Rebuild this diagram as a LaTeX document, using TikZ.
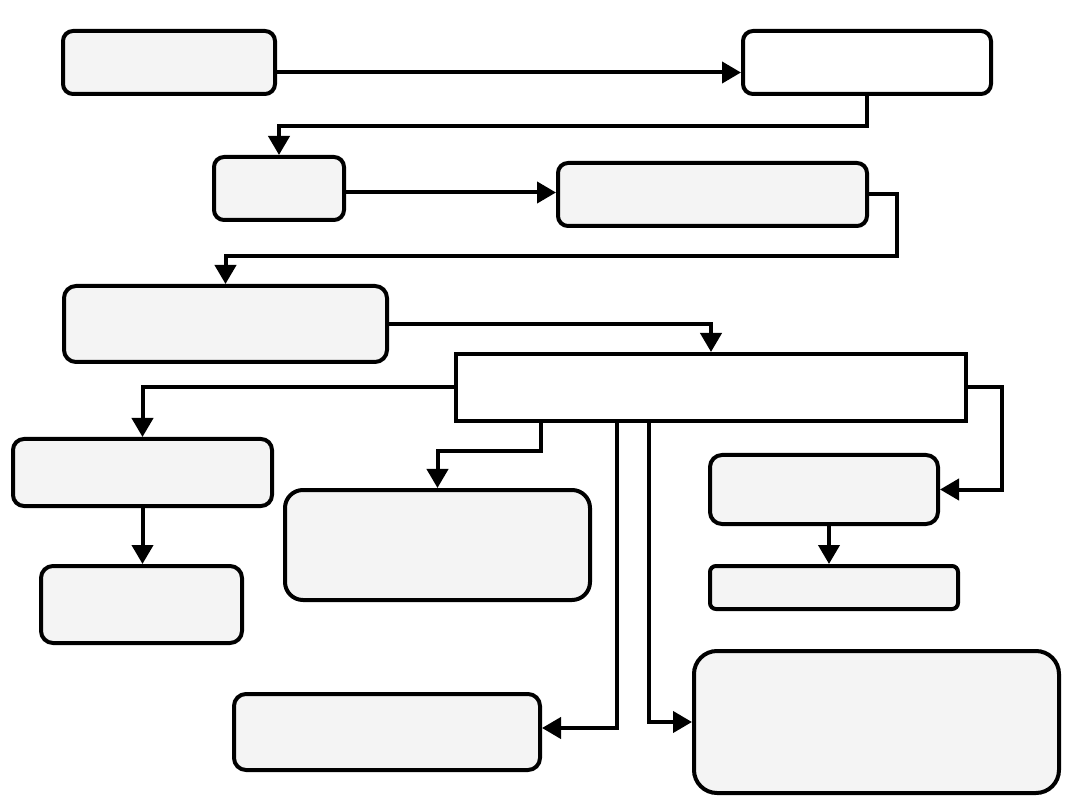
\documentclass[tikz,border=0pt]{standalone}
\usetikzlibrary{arrows.meta}
\definecolor{boxfill}{HTML}{F4F4F4}
\begin{document}
\begin{tikzpicture}[x=1pt,y=-1pt,
  box/.style={draw=black, line width=4pt, fill=boxfill, rounded corners=10pt,
    inner sep=0pt, outer sep=2pt},
  plainbox/.style={box, fill=white},
  sharpbox/.style={box, fill=white, sharp corners},
  arr/.style={draw=black, line width=4pt, -{Triangle[length=19pt,width=21pt]}},
  link/.style={draw=black, line width=4pt}]
\useasboundingbox (0,0) rectangle (1080,810);
% boxes (centre, width, height of border centre line)
\node[box, minimum width=212pt, minimum height=63pt] (A) at (169,62.5) {};
\node[plainbox, minimum width=248pt, minimum height=63pt] (B) at (867,62.5) {};
\node[box, minimum width=130pt, minimum height=63pt] (C) at (279,188.5) {};
\node[box, minimum width=309pt, minimum height=63pt] (D) at (712.5,194.5) {};
\node[box, rounded corners=12pt, minimum width=323pt, minimum height=76pt] (E) at (225.5,324) {};
\node[sharpbox, minimum width=510pt, minimum height=67pt] (F) at (711,387.5) {};
\node[box, rounded corners=11pt, minimum width=259pt, minimum height=67pt] (G) at (142.5,472.5) {};
\node[box, rounded corners=12pt, minimum width=201pt, minimum height=77pt] (H) at (141.5,604.5) {};
\node[box, rounded corners=18pt, minimum width=305pt, minimum height=110pt] (I) at (437.5,545) {};
\node[box, rounded corners=12pt, minimum width=228pt, minimum height=69pt] (J) at (824,489.5) {};
\node[box, rounded corners=6pt, minimum width=248pt, minimum height=43pt] (K) at (834,587.5) {};
\node[box, rounded corners=12pt, minimum width=306pt, minimum height=76pt] (L) at (387,732) {};
\node[box, rounded corners=23pt, minimum width=365pt, minimum height=142pt] (M) at (876.5,722) {};
% connectors
\draw[arr] ([yshift=-10pt]A.east) -- ([yshift=-10pt]B.west);
\draw[arr] (B.south) -- ++(0,30) -| (C.north);
\draw[arr] ([yshift=-4pt]C.east) -- ([yshift=-4pt]C.east -| D.west);
\draw[arr] (D.east) -- ++(28,0) -- ++(0,62) -| (E.north);
\draw[arr] (E.east) -| (F.north);
\draw[arr] (F.west) -| (G.north);
\draw[arr] (G.south) -- (G.south |- H.north);
\draw[arr] ([xshift=-170pt]F.south) -- ++(0,28) -| (I.north);
\draw[arr] (F.east) -- ++(34,0) |- (J.east);
\draw[arr] ([xshift=5pt]J.south) -- ([xshift=5pt]J.south |- K.north);
\draw[arr] ([xshift=-94.5pt]F.south) |- ([yshift=4pt]L.east);
\draw[arr] ([xshift=-62.5pt]F.south) |- (M.west);
\end{tikzpicture}
\end{document}
